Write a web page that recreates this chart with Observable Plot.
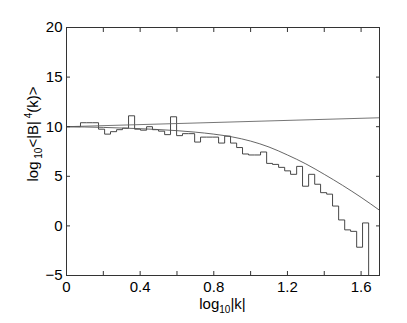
<!DOCTYPE html>
<html><head><meta charset="utf-8">
<script src="https://cdn.jsdelivr.net/npm/d3@7"></script>
<script src="https://cdn.jsdelivr.net/npm/@observablehq/plot@0.6"></script>
<style>
body{margin:0;background:#fff}
svg{font-family:"Liberation Sans",Arial,Helvetica,sans-serif}
</style>
</head><body><div id="chart"></div>
<script>
// bin edges in log10|k|
const binEdges = [0, 0.044, 0.076, 0.109, 0.141, 0.174, 0.207, 0.239, 0.272, 0.304, 0.337,
  0.370, 0.402, 0.435, 0.467, 0.500, 0.533, 0.565, 0.598, 0.630, 0.663,
  0.696, 0.728, 0.761, 0.793, 0.826, 0.859, 0.891, 0.924, 0.956, 0.989,
  1.022, 1.054, 1.087, 1.119, 1.152, 1.185, 1.217, 1.250, 1.282, 1.315,
  1.348, 1.380, 1.413, 1.445, 1.478, 1.511, 1.543, 1.576, 1.608, 1.641];
// measured log10 <|B|^4(k)> per bin
const spectrum = [10.0, 10.0, 10.4, 10.4, 10.4, 9.75, 9.25, 9.5, 9.7, 9.85,
  11.1, 9.75, 9.65, 10.0, 9.7, 9.55, 9.2, 11.0, 9.1, 9.3,
  9.3, 8.45, 8.95, 8.95, 8.95, 8.35, 9.05, 8.35, 7.9, 7.25,
  7.15, 7.15, 7.45, 6.3, 6.2, 5.9, 5.55, 5.2, 6.0, 4.0,
  5.2, 4.2, 3.35, 3.2, 2.0, 0.6, -0.4, -0.55, -2.15, 0.3];
const lastDrop = -6;
// straight reference line
const lineX = [0, 1.7];
const lineY = [10.0, 10.9];
// curved reference line
const curveX = [0, 0.2, 0.4, 0.6, 0.7, 0.8, 0.9, 1.0, 1.1, 1.2, 1.3, 1.4, 1.5, 1.6, 1.7];
const curveY = [10.0, 9.93, 9.8, 9.6, 9.45, 9.25, 8.97, 8.55, 7.95, 7.15, 6.25, 5.2, 4.08, 2.88, 1.58];
// ticks
const xTicks = [0, 0.4, 0.8, 1.2, 1.6];
const xMinorTicks = [0, 0.2, 0.4, 0.6, 0.8, 1.0, 1.2, 1.4, 1.6];
const yTicks = [-5, 0, 5, 10, 15, 20];

const stepData = spectrum.map((v, i) => ({x: binEdges[i], y: v}));
stepData.push({x: binEdges[binEdges.length - 1], y: spectrum[spectrum.length - 1]});
stepData.push({x: binEdges[binEdges.length - 1], y: lastDrop});
const straight = lineX.map((x, i) => ({x, y: lineY[i]}));
const curve = curveX.map((x, i) => ({x, y: curveY[i]}));

const noText = () => "";
const plot = Plot.plot({
  width: 407, height: 323,
  marginLeft: 66, marginRight: 28, marginTop: 27, marginBottom: 48,
  x: {domain: [0, 1.7], label: null},
  y: {domain: [-5, 20], label: null},
  style: {fontFamily: "'Liberation Sans', Arial, sans-serif", fontSize: "15px", color: "#000", background: "#fff", overflow: "visible"},
  marks: [
    Plot.line(stepData, {x: "x", y: "y", curve: "step-after", stroke: "#333", strokeWidth: 0.9, clip: true}),
    Plot.line(straight, {x: "x", y: "y", stroke: "#666", strokeWidth: 0.9, clip: true}),
    Plot.line(curve, {x: "x", y: "y", curve: "monotone-x", stroke: "#555", strokeWidth: 0.9, clip: true}),
    Plot.frame({stroke: "#333", strokeWidth: 1}),
    Plot.axisX(xMinorTicks, {anchor: "bottom", tickSize: -4, tickFormat: noText, label: null, stroke: "#333"}),
    Plot.axisX(xMinorTicks, {anchor: "top", tickSize: -4, tickFormat: noText, label: null, stroke: "#333"}),
    Plot.axisX(xTicks, {anchor: "bottom", tickSize: 0, tickPadding: 6, tickFormat: d => String(d), label: null, fill: "#000"}),
    Plot.axisY(yTicks, {anchor: "left", tickSize: -4, tickFormat: noText, label: null, stroke: "#333"}),
    Plot.axisY(yTicks, {anchor: "right", tickSize: -4, tickFormat: noText, label: null, stroke: "#333"}),
    Plot.axisY(yTicks, {anchor: "left", tickSize: 0, tickPadding: 4, tickFormat: d => d < 0 ? "\u2212" + Math.abs(d) : String(d), label: null, fill: "#000"})
  ]
});

const svg = d3.select(plot);
const xl = svg.append("text")
  .attr("x", 222.5).attr("y", 309)
  .attr("text-anchor", "middle")
  .style("font-size", "15px").attr("fill", "#000");
xl.append("tspan").text("log");
xl.append("tspan").attr("dy", 4).style("font-size", "10px").text("10");
xl.append("tspan").attr("dy", -4).text("|k|");

const yl = svg.append("text")
  .attr("transform", "translate(38,134) rotate(-90)")
  .attr("text-anchor", "middle")
  .style("font-size", "15px").attr("fill", "#000");
yl.append("tspan").text("log");
yl.append("tspan").attr("dy", 4).style("font-size", "10px").text(" 10");
yl.append("tspan").attr("dy", -4).text("<|B|");
yl.append("tspan").attr("dy", -6).style("font-size", "10px").text(" 4");
yl.append("tspan").attr("dy", 6).text("(k)>");

document.getElementById("chart").appendChild(plot);
</script>
</body></html>
